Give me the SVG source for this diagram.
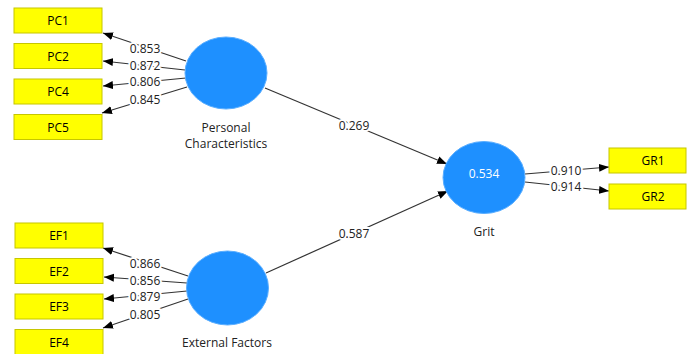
<svg xmlns="http://www.w3.org/2000/svg" width="687" height="354" viewBox="0 0 687 354">
<style>
.box{fill:#ffff00;stroke:#c6c600;stroke-width:1}
.lv{fill:#1e90ff;stroke:#5aaeff;stroke-width:1}
.bt{font-family:"Open Sans",sans-serif;font-size:12px;fill:#000;text-anchor:middle;dominant-baseline:central}
.nl{font-family:"Open Sans",sans-serif;font-size:12px;fill:#222;text-anchor:middle}
.el{stroke:#333;stroke-width:1.2;fill:none;marker-end:url(#ah)}
.cl{font-family:"Open Sans",sans-serif;font-size:12px;fill:#222;text-anchor:middle;dominant-baseline:central;stroke:#fff;stroke-width:4;paint-order:stroke;stroke-linejoin:round}
</style>
<defs>
<marker id="ah" viewBox="0 0 10 10" refX="10" refY="5" markerWidth="10" markerHeight="10" markerUnits="userSpaceOnUse" orient="auto">
<path d="M0,1 L10,5 L0,9 Z" fill="#000"/>
</marker>
</defs>
<rect width="687" height="354" fill="#fff"/>
<g id="connectors">
<line class="el" x1="186" y1="61" x2="103" y2="33"/>
<line class="el" x1="185" y1="70" x2="103" y2="61"/>
<line class="el" x1="186" y1="78" x2="103" y2="86"/>
<line class="el" x1="187" y1="87" x2="102" y2="113"/>
<line class="el" x1="188" y1="276" x2="103" y2="248"/>
<line class="el" x1="187" y1="283" x2="104" y2="277"/>
<line class="el" x1="187" y1="291" x2="104" y2="299"/>
<line class="el" x1="188" y1="299" x2="103" y2="328"/>
<line class="el" x1="265" y1="88" x2="447" y2="164"/>
<line class="el" x1="266" y1="273" x2="448" y2="191"/>
<line class="el" x1="525" y1="174" x2="609" y2="167"/>
<line class="el" x1="525" y1="182" x2="609" y2="191"/>
<text class="cl" x="145" y="48">0.853</text>
<text class="cl" x="145" y="65.5">0.872</text>
<text class="cl" x="145" y="81.5">0.806</text>
<text class="cl" x="145" y="99">0.845</text>
<text class="cl" x="145" y="263">0.866</text>
<text class="cl" x="145" y="280.5">0.856</text>
<text class="cl" x="145" y="296.5">0.879</text>
<text class="cl" x="145" y="314">0.805</text>
<text class="cl" x="354" y="125">0.269</text>
<text class="cl" x="354" y="233">0.587</text>
<text class="cl" x="566" y="170">0.910</text>
<text class="cl" x="566" y="186">0.914</text>
</g>
<g id="PC1"><rect class="box" x="14" y="8" width="88" height="25"/><text class="bt" x="58" y="20.5">PC1</text></g>
<g id="PC2"><rect class="box" x="14" y="43.5" width="88" height="25"/><text class="bt" x="58" y="56">PC2</text></g>
<g id="PC4"><rect class="box" x="14" y="79" width="88" height="25"/><text class="bt" x="58" y="91.5">PC4</text></g>
<g id="PC5"><rect class="box" x="14" y="114.5" width="88" height="25"/><text class="bt" x="58" y="127">PC5</text></g>
<g id="EF1"><rect class="box" x="15" y="223" width="88" height="25"/><text class="bt" x="59" y="235.5">EF1</text></g>
<g id="EF2"><rect class="box" x="15" y="258.5" width="88" height="25"/><text class="bt" x="59" y="271">EF2</text></g>
<g id="EF3"><rect class="box" x="15" y="294" width="88" height="25"/><text class="bt" x="59" y="306.5">EF3</text></g>
<g id="EF4"><rect class="box" x="15" y="329.5" width="88" height="25"/><text class="bt" x="59" y="342">EF4</text></g>
<g id="GR1"><rect class="box" x="609" y="148" width="77" height="25"/><text class="bt" x="653" y="160.5">GR1</text></g>
<g id="GR2"><rect class="box" x="609" y="184" width="77" height="25"/><text class="bt" x="653" y="196.5">GR2</text></g>
<g id="PersonalCharacteristics"><ellipse class="lv" cx="226" cy="73" rx="41" ry="36"/><text class="nl" x="226" y="131.5">Personal</text><text class="nl" x="226" y="147.5">Characteristics</text></g>
<g id="ExternalFactors"><ellipse class="lv" cx="227.5" cy="288" rx="41" ry="37"/><text class="nl" x="227" y="347">External Factors</text></g>
<g id="Grit"><ellipse class="lv" cx="484" cy="177.5" rx="41" ry="36"/><text class="bt" x="484" y="173.5" style="fill:#fff">0.534</text><text class="nl" x="484" y="236">Grit</text></g>
</svg>
